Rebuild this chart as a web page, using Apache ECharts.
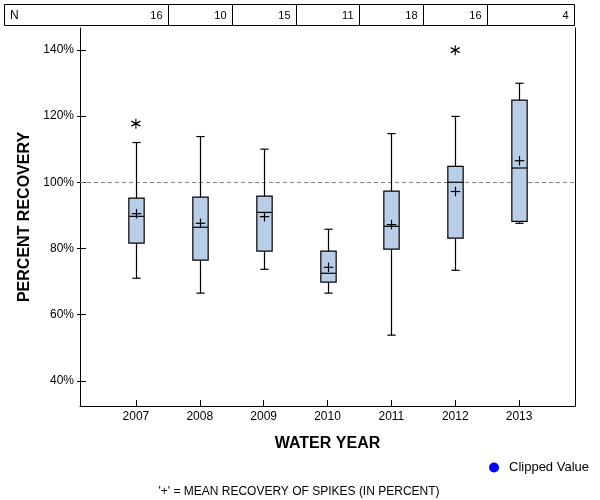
<!DOCTYPE html>
<html>
<head>
<meta charset="utf-8">
<script src="https://cdn.jsdelivr.net/npm/echarts@6/dist/echarts.min.js"></script>
<style>html,body{margin:0;padding:0;background:#fff}#c{width:600px;height:500px}</style>
</head>
<body>
<div id="c"></div>
<script>
const years = [2007, 2008, 2009, 2010, 2011, 2012, 2013];
const nCounts = [16, 10, 15, 11, 18, 16, 4];
const whiskerLow = [71.0, 66.5, 73.7, 66.5, 53.8, 73.4, 87.6];
const q1 = [81.6, 76.5, 79.2, 69.8, 79.8, 83.1, 88.2];
const medians = [89.7, 86.4, 90.9, 72.5, 86.7, 100.0, 104.3];
const q3 = [95.2, 95.5, 95.8, 79.2, 97.3, 104.8, 124.8];
const whiskerHigh = [112.0, 113.8, 110.0, 85.8, 114.7, 119.9, 129.9];
const means = [90.5, 87.6, 89.6, 74.3, 87.2, 97.2, 106.5];
const outlierYears = [2007, 2012];
const outlierValues = [117.7, 139.9];
const yTicks = [40, 60, 80, 100, 120, 140];
const referenceLine = 100;

const FONT = '"Liberation Sans", Arial, sans-serif';
const boxData = years.map((y, i) => [y, whiskerLow[i], q1[i], medians[i], q3[i], whiskerHigh[i], means[i]]);
const outlierData = outlierYears.map((y, i) => [y, outlierValues[i]]);

const chart = echarts.init(document.getElementById('c'), null, {renderer: 'canvas'});

function renderBox(params, api) {
  const x = api.value(0);
  const pLow = api.coord([x, api.value(1)]);
  const pQ1 = api.coord([x, api.value(2)]);
  const pMed = api.coord([x, api.value(3)]);
  const pQ3 = api.coord([x, api.value(4)]);
  const pHigh = api.coord([x, api.value(5)]);
  const pMean = api.coord([x, api.value(6)]);
  const bw = api.size([0.24, 0])[0];
  const cw = api.size([0.13, 0])[0];
  const mw = api.size([0.15, 0])[0];
  const cx = Math.round(pMed[0]) + 0.5;
  const ls = {stroke: '#000', lineWidth: 1.2};
  const L = (x1, y1, x2, y2) => ({type: 'line', shape: {x1, y1, x2, y2}, style: ls});
  return {
    type: 'group',
    children: [
      L(cx, pHigh[1], cx, pQ3[1]),
      L(cx, pQ1[1], cx, pLow[1]),
      L(cx - cw / 2, pHigh[1], cx + cw / 2, pHigh[1]),
      L(cx - cw / 2, pLow[1], cx + cw / 2, pLow[1]),
      {type: 'rect', shape: {x: cx - bw / 2, y: pQ3[1], width: bw, height: pQ1[1] - pQ3[1]},
        style: {fill: '#B9CFE7', stroke: '#000', lineWidth: 1.2}},
      L(cx - bw / 2, pMed[1], cx + bw / 2, pMed[1]),
      L(cx - mw / 2, pMean[1], cx + mw / 2, pMean[1]),
      L(cx, pMean[1] - mw / 2, cx, pMean[1] + mw / 2)
    ]
  };
}

const option = {
  animation: false,
  backgroundColor: '#fff',
  textStyle: {fontFamily: FONT},
  grid: {left: 80, right: 25, top: 28, bottom: 94},
  legend: {
    data: [{name: 'Clipped Value', icon: 'circle'}],
    right: 6, top: 456, itemWidth: 10, itemHeight: 10, itemGap: 10,
    textStyle: {fontFamily: FONT, fontSize: 13, color: '#000', padding: [0, 0, 0, 5]}
  },
  xAxis: {
    type: 'value', min: 2006.125, max: 2013.875,
    name: 'WATER YEAR', nameLocation: 'middle', nameGap: 30,
    nameTextStyle: {fontFamily: FONT, fontSize: 16, fontWeight: 'bold', color: '#000'},
    axisLine: {show: true, lineStyle: {color: '#000', width: 1}},
    axisTick: {show: true, inside: true, length: 6, customValues: years, lineStyle: {color: '#000'}},
    axisLabel: {customValues: years, formatter: v => String(v), fontSize: 12, color: '#000', margin: 5, fontFamily: FONT},
    splitLine: {show: false}
  },
  yAxis: [{
    type: 'value', min: 32.4, max: 146.6, position: 'left',
    name: 'PERCENT RECOVERY', nameLocation: 'middle', nameGap: 47, nameRotate: 90,
    nameTextStyle: {fontFamily: FONT, fontSize: 16, fontWeight: 'bold', color: '#000'},
    axisLine: {show: true, lineStyle: {color: '#000', width: 1}},
    axisTick: {show: true, inside: true, length: 6, customValues: yTicks, lineStyle: {color: '#000'}},
    axisLabel: {customValues: yTicks, formatter: v => v + '%', fontSize: 12, color: '#000', margin: 6, fontFamily: FONT},
    splitLine: {show: false}
  }, {
    type: 'value', min: 32.4, max: 146.6, position: 'left',
    axisLine: {show: false},
    axisTick: {show: true, inside: false, length: 3, customValues: yTicks, lineStyle: {color: '#000'}},
    axisLabel: {show: false},
    splitLine: {show: false}
  }, {
    type: 'value', min: 32.4, max: 146.6, position: 'right',
    axisLine: {show: true, lineStyle: {color: '#000', width: 1}},
    axisTick: {show: false}, axisLabel: {show: false}, splitLine: {show: false}
  }],
  series: [
    {
      name: 'Clipped Value', type: 'scatter', data: [], z: 1,
      itemStyle: {color: '#0000FF', opacity: 1},
      markLine: {
        silent: true, symbol: 'none', label: {show: false},
        lineStyle: {color: '#808080', type: [4, 3], width: 1},
        data: [{yAxis: referenceLine}]
      }
    },
    {
      name: 'box', type: 'custom', z: 5, renderItem: renderBox, data: boxData,
      encode: {x: 0, y: [1, 2, 3, 4, 5, 6]}
    },
    {
      name: 'outliers', type: 'scatter', z: 6, data: outlierData,
      symbol: 'path://M0,-5L0,5M-4.3,-2.5L4.3,2.5M-4.3,2.5L4.3,-2.5',
      symbolSize: [9, 10],
      itemStyle: {color: 'none', borderColor: '#000', borderWidth: 1.2, opacity: 1}
    }
  ]
};
chart.setOption(option);

// N table above the plot, cell boundaries from the x scale
const px = v => chart.convertToPixel({xAxisIndex: 0}, v);
const tTop = 4, tBot = 25, tLeft = 4;
const tRight = Math.round(px(2013.875)) - 0.5;
const gfx = [];
gfx.push({type: 'rect', shape: {x: tLeft + 0.5, y: tTop + 0.5, width: tRight - tLeft - 0.5, height: tBot - tTop},
  style: {fill: 'none', stroke: '#000', lineWidth: 1}});
gfx.push({type: 'text', x: 10, y: (tTop + tBot) / 2 + 1,
  style: {text: 'N', font: '12px ' + FONT, fill: '#000', verticalAlign: 'middle', align: 'left'}});
years.forEach((y, i) => {
  const right = i === years.length - 1 ? tRight : Math.round(px(y + 0.5)) + 0.5;
  if (i > 0) {
    const left = Math.round(px(y - 0.5)) + 0.5;
    gfx.push({type: 'line', shape: {x1: left, y1: tTop, x2: left, y2: tBot}, style: {stroke: '#000', lineWidth: 1}});
  }
  gfx.push({type: 'text', x: right - 6, y: (tTop + tBot) / 2 + 1,
    style: {text: String(nCounts[i]), font: '11px ' + FONT, fill: '#000', verticalAlign: 'middle', align: 'right'}});
});
gfx.push({type: 'text', x: 299, y: 492,
  style: {text: "'+' = MEAN RECOVERY OF SPIKES (IN PERCENT)", font: '12px ' + FONT, fill: '#000', align: 'center', verticalAlign: 'middle'}});
chart.setOption({graphic: gfx});
</script>
</body>
</html>
